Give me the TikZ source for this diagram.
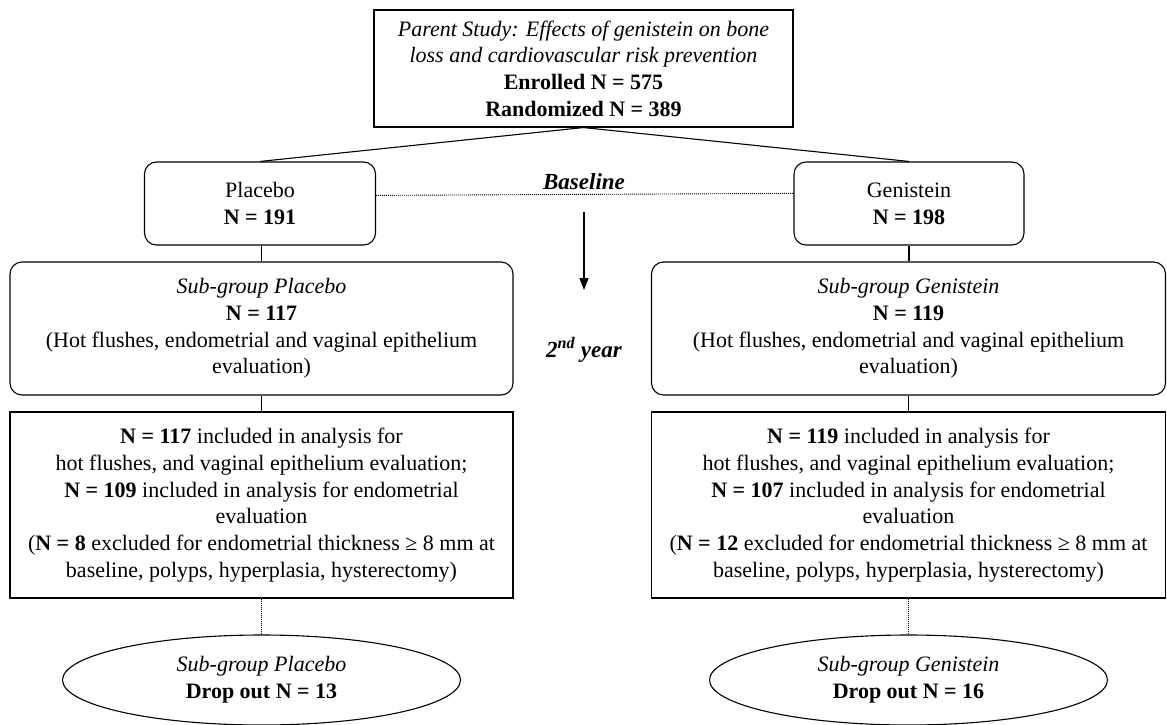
\documentclass[tikz,border=0pt]{standalone}
\usepackage{fontspec}
\setmainfont{Liberation Serif}
\usetikzlibrary{shapes.geometric,arrows.meta}
\tikzset{
  every node/.style={font=\fontsize{22}{26.7}\selectfont, align=center, inner sep=0pt},
  sqbox/.style={draw, line width=1.1pt, rectangle},
  rbox/.style={draw, line width=1.1pt, rectangle, rounded corners=12pt},
  dropbox/.style={draw, line width=1.1pt, ellipse, minimum width=398pt, minimum height=90pt},
  conn/.style={line width=1.1pt},
  dotconn/.style={line width=0.9pt, dash pattern=on 1pt off 1pt},
  sidelabel/.style={font=\fontsize{23}{27}\selectfont\bfseries\itshape},
}
\begin{document}
\begin{tikzpicture}[x=1pt,y=-1pt]
\useasboundingbox (0,0) rectangle (1167,725);
\node[sqbox, minimum width=419pt, minimum height=117pt] (top) at (583.5,68.5)
  {\textit{Parent Study: Effects of genistein on bone}\\
   \textit{loss and cardiovascular risk prevention}\\
   \textbf{Enrolled N = 575}\\
   \textbf{Randomized N = 389}};
\node[rbox, minimum width=231pt, minimum height=83pt] (plac) at (260,203.5)
  {Placebo\\ \textbf{N = 191}};
\node[rbox, minimum width=230pt, minimum height=83pt] (gen) at (909,203.5)
  {Genistein\\ \textbf{N = 198}};
\node[rbox, minimum width=503pt, minimum height=133pt] (subp) at (261.5,328.5)
  {\textit{Sub-group Placebo}\\ \textbf{N = 117}\\
   (Hot flushes, endometrial and vaginal epithelium\\ evaluation)};
\node[rbox, minimum width=514pt, minimum height=133pt] (subg) at (908.5,328.5)
  {\textit{Sub-group Genistein}\\ \textbf{N = 119}\\
   (Hot flushes, endometrial and vaginal epithelium\\ evaluation)};
\node[sqbox, minimum width=503pt, minimum height=186pt] (anap) at (261.5,505)
  {\textbf{N = 117} included in analysis for\\
   hot flushes, and vaginal epithelium evaluation;\\
   \textbf{N = 109} included in analysis for endometrial\\
   evaluation\\
   (\textbf{N = 8} excluded for endometrial thickness ≥ 8 mm at\\
   baseline, polyps, hyperplasia, hysterectomy)};
\node[sqbox, minimum width=514pt, minimum height=186pt] (anag) at (908.5,505)
  {\textbf{N = 119} included in analysis for\\
   hot flushes, and vaginal epithelium evaluation;\\
   \textbf{N = 107} included in analysis for endometrial\\
   evaluation\\
   (\textbf{N = 12} excluded for endometrial thickness ≥ 8 mm at\\
   baseline, polyps, hyperplasia, hysterectomy)};
\node[dropbox] (dropp) at (261.5,680)
  {\textit{Sub-group Placebo}\\ \textbf{Drop out N = 13}};
\node[dropbox] (dropg) at (908.5,680)
  {\textit{Sub-group Genistein}\\ \textbf{Drop out N = 16}};
\node[sidelabel] (bl) at (584,182) {Baseline};
\node[sidelabel] (yr) at (584,350) {2\textsuperscript{nd} year};
\coordinate (a1) at (584,212);
\coordinate (a2) at (584,290);
\draw[conn] (top.south) -- (plac.north);
\draw[conn] (top.south) -- (gen.north);
\draw[conn] (subp.north |- plac.south) -- (subp.north);
\draw[conn] (gen.south) -- (gen.south |- subg.north);
\draw[conn] (subp.south) -- (anap.north);
\draw[conn] (subg.south) -- (anag.north);
\draw[dotconn] (anap.south) -- (dropp.north);
\draw[dotconn] (anag.south) -- (dropg.north);
\draw[dotconn] (plac.4.7) -- (gen.175.3);
\draw[conn, -{Triangle[width=9pt,length=12pt]}] (a1) -- (a2);
\end{tikzpicture}
\end{document}
